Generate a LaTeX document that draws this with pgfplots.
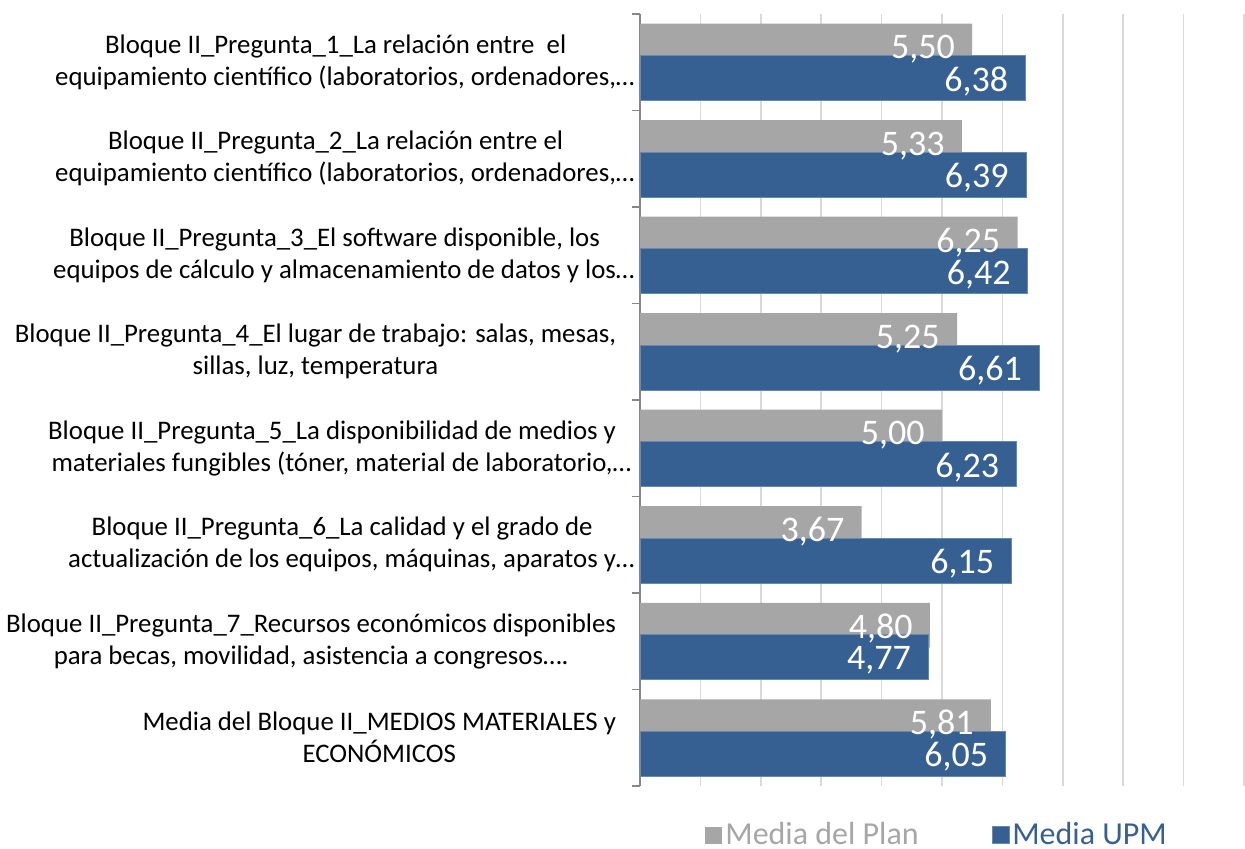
\documentclass[border=0pt]{standalone}
\usepackage{fontspec}
\setmainfont{Carlito}
\usepackage{pgfplots}
\pgfplotsset{compat=1.18}
\definecolor{plangray}{HTML}{A6A6A6}
\definecolor{upmblue}{HTML}{366092}
\definecolor{gridgray}{HTML}{D9D9D9}
\definecolor{axgray}{HTML}{868686}
\begin{document}
\begin{tikzpicture}
\path[use as bounding box] (0,0) rectangle (622.5pt,424.5pt);
\begin{axis}[
  at={(320pt,31.5pt)}, anchor=south west,
  scale only axis, width=302pt, height=386pt,
  xmin=0, xmax=10, ymin=-0.5, ymax=7.5, y dir=reverse,
  axis lines=left, axis line style={-},
  x axis line style={draw=none},
  y axis line style={draw=axgray, line width=0.75pt},
  xtick={1,...,10}, xticklabels={}, xmajorgrids,
  xtick style={draw=none},
  grid style={draw=gridgray, line width=0.75pt},
  tick align=outside,
  ytick={0,...,7},
  ytick style={draw=none},
  yticklabels={
    {Bloque II\_Pregunta\_1\_La relación entre~ el\\equipamiento científico (laboratorios, ordenadores,\rlap{…}},
    {Bloque II\_Pregunta\_2\_La relación entre el\\equipamiento científico (laboratorios, ordenadores,\rlap{…}},
    {Bloque II\_Pregunta\_3\_El software disponible, los\\equipos de cálculo y almacenamiento de datos y los\rlap{…}},
    {Bloque II\_Pregunta\_4\_El lugar de trabajo: salas, mesas,\\sillas, luz, temperatura},
    {Bloque II\_Pregunta\_5\_La disponibilidad de medios y\\materiales fungibles (tóner, material de laboratorio,\rlap{…}},
    {Bloque II\_Pregunta\_6\_La calidad y el grado de\\actualización de los equipos, máquinas, aparatos y\rlap{…}},
    {Bloque II\_Pregunta\_7\_Recursos económicos disponibles\\para becas, movilidad, asistencia a congresos….},
    {Media del Bloque II\_MEDIOS MATERIALES y\\ECONÓMICOS}
  },
  yticklabel style={align=center, font=\fontsize{13.4}{16}\selectfont, inner sep=0pt, xshift=-7.5pt},
  extra y ticks={-0.5,0.5,...,7.5}, extra y tick labels={},
  extra y tick style={major tick length=4pt, ytick style={draw=axgray, line width=0.75pt}, grid=none},
  legend style={at={(rel axis cs:0.1076,-0.0635)}, anchor=west, draw=none, fill=none,
    legend columns=2, inner sep=0pt, font=\fontsize{16}{19}\selectfont,
    /tikz/every even column/.append style={column sep=35pt},
    nodes={inner xsep=1.5pt, inner ysep=0pt}},
  legend image code/.code={\fill[#1] (0pt,-4.25pt) rectangle (8.5pt,4.25pt);},
  /pgf/number format/.cd, fixed, fixed zerofill, precision=2, use comma, assume math mode=true,
  /pgfplots/.cd,
  every node near coord/.append style={anchor=east, inner sep=0pt, xshift=-8.5pt, text=white, font=\fontsize{18}{20}\selectfont},
]
\addplot[xbar, bar width=0.466, bar shift=-0.166, fill=plangray, draw=none] coordinates {
  (5.50,0) (5.33,1) (6.25,2) (5.25,3) (5.00,4) (3.67,5) (4.80,6) (5.81,7)};
\addlegendentry{\textcolor{plangray}{Media del Plan}}
\addplot[xbar, bar width=0.466, bar shift=0.166, fill=upmblue, draw=upmblue!75!white, line width=0.3pt,
  nodes near coords, every node near coord/.append style={yshift=-9.5pt}] coordinates {
  (6.38,0) (6.39,1) (6.42,2) (6.61,3) (6.23,4) (6.15,5) (4.77,6) (6.05,7)};
\addlegendentry{\textcolor{upmblue}{Media UPM}}
\addplot[xbar, bar width=0.466, bar shift=-0.166, fill=none, draw=none, nodes near coords,
  every node near coord/.append style={yshift=6.5pt}, forget plot] coordinates {
  (5.50,0) (5.33,1) (6.25,2) (5.25,3) (5.00,4) (3.67,5) (4.80,6) (5.81,7)};
\end{axis}
\end{tikzpicture}
\end{document}
